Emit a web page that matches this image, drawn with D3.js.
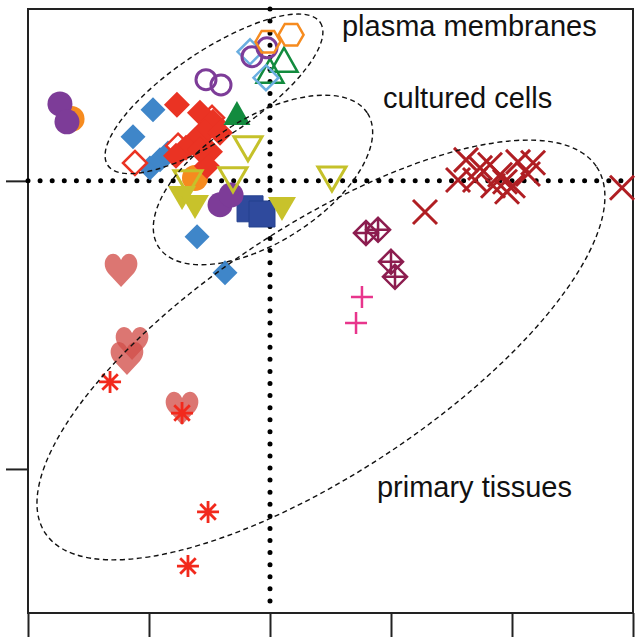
<!DOCTYPE html>
<html><head><meta charset="utf-8">
<script src="https://cdn.jsdelivr.net/npm/d3@7"></script>
<style>body{margin:0;background:#fff}</style>
</head><body><svg id="c" width="640" height="643"></svg>
<script>
// ---------- data (x, y in axis units) ----------
const xTicks = [-2, -1, 0, 1, 2, 3];
const yTicks = [-1, 0];

const orangeDots = [[-1.640, 0.215], [-0.620, 0.010]];
const purpleDots = [[-1.736, 0.267], [-1.678, 0.205], [-0.413, -0.083], [-0.322, -0.049]];
const blueDiamonds = [[-0.967, 0.247], [-1.132, 0.153], [-0.992, 0.045], [-0.909, 0.073], [-0.843, 0.097], [-0.603, -0.194], [-0.372, -0.319]];
const redOpenDiamonds = [[-1.116, 0.062], [-0.760, 0.122], [-0.479, 0.219], [-0.587, 0.153]];
const redDiamonds = [[-0.769, 0.264], [-0.579, 0.236], [-0.471, 0.205], [-0.537, 0.170], [-0.413, 0.167], [-0.620, 0.139], [-0.694, 0.115], [-0.777, 0.087], [-0.496, 0.101], [-0.521, 0.052], [-0.579, 0.108]];
const greenTriangles = [[-0.273, 0.229]];
const greenOpenTriangles = [[0.116, 0.413], [0.0, 0.375]];
const lightBlueOpenDiamonds = [[-0.165, 0.448], [-0.033, 0.358]];
const purpleOpenCircles = [[-0.149, 0.431], [-0.025, 0.462], [-0.529, 0.351], [-0.405, 0.333]];
const orangeOpenHexagons = [[-0.017, 0.483], [0.174, 0.507]];
const olivOpenTriangles = [[-0.182, 0.115], [-0.306, 0.007], [0.512, 0.010], [-0.678, -0.003]];
const olivTriangles = [[-0.727, -0.056], [-0.620, -0.087], [0.099, -0.094]];
const navySquares = [[-0.165, -0.097], [-0.066, -0.115]];
const hearts = [[-1.231, -0.309], [-1.140, -0.563], [-1.182, -0.615], [-0.727, -0.788]];
const asterisks = [[-1.322, -0.698], [-0.727, -0.806], [-0.512, -1.149], [-0.678, -1.337]];
const pinkPlus = [[0.760, -0.403], [0.711, -0.493]];
const maroonDiamondPlus = [[0.793, -0.181], [0.893, -0.170], [1.0, -0.281], [1.033, -0.333]];
const redCrosses = [[1.281, -0.108], [2.909, -0.024], [1.620, 0.073], [1.554, 0.003], [1.736, 0.045], [1.818, 0.056], [1.901, 0.021], [1.959, -0.038], [1.942, -0.003], [2.050, 0.066], [2.174, 0.063], [2.132, 0.024], [1.843, -0.017], [2.008, -0.017], [1.694, 0.003]];

const groupNames = ["plasma membranes", "cultured cells", "primary tissues"];
const groupCenters = [[-0.463, 0.302], [-0.058, 0.003], [0.421, -0.587]];
const labelAnchors = [[0.595, 0.503], [0.934, 0.253], [0.884, -1.097]];

// ---------- layout ----------
const svg = d3.select("#c");
const x = d3.scaleLinear().domain([-2, 3]).range([28, 633]);
const y = d3.scaleLinear().domain([-1.5, 0.6]).range([613, 8]);

// frame
svg.append("rect").attr("x", x(-2)).attr("y", y(0.6) + 1).attr("width", x(3) - x(-2)).attr("height", y(-1.5) - y(0.6) - 1)
  .attr("fill", "none").attr("stroke", "#222").attr("stroke-width", 2);

const gx = svg.append("g").attr("transform", `translate(0,${y(-1.5)})`)
  .call(d3.axisBottom(x).tickValues(xTicks).tickSize(24).tickFormat(""));
const gy = svg.append("g").attr("transform", `translate(${x(-2)},0)`)
  .call(d3.axisLeft(y).tickValues(yTicks).tickSize(22).tickFormat(""));
[gx, gy].forEach(g => { g.select(".domain").remove(); g.selectAll("line").attr("stroke", "#222").attr("stroke-width", 2); });

// dotted zero lines
svg.append("line").attr("x1", x(0)).attr("x2", x(0)).attr("y1", y(0.6) + 1).attr("y2", y(-1.5))
  .attr("stroke", "#000").attr("stroke-width", 5).attr("stroke-linecap", "round").attr("stroke-dasharray", "0,12.08");
svg.append("line").attr("x1", x(-2)).attr("x2", x(3)).attr("y1", y(0)).attr("y2", y(0))
  .attr("stroke", "#000").attr("stroke-width", 5).attr("stroke-linecap", "round").attr("stroke-dasharray", "0,12.1");

// ---------- symbol paths ----------
const diamond = h => `M0,${-h}L${h},0L0,${h}L${-h},0Z`;
const triUp = `M0,-14L13.5,10L-13.5,10Z`;
const triDown = `M-14,-11L14,-11L0,13Z`;
const hexagon = r => d3.range(6).map(k => { const a = k * Math.PI / 3; return (k ? "L" : "M") + (r * Math.cos(a)).toFixed(2) + "," + (r * Math.sin(a)).toFixed(2); }).join("") + "Z";
const heart = `M0,17L-13,3C-17,-2 -17.5,-9 -14,-13C-10,-18 -3,-17 0,-10C3,-17 10,-18 14,-13C17.5,-9 17,-2 13,3Z`;
const asterisk = r => { const d = r * Math.SQRT1_2; return `M${-r},0L${r},0M0,${-r}L0,${r}M${-d},${-d}L${d},${d}M${-d},${d}L${d},${-d}`; };
const plus = r => `M${-r},0L${r},0M0,${-r}L0,${r}`;
const cross = r => `M${-r},${-r}L${r},${r}M${-r},${r}L${r},${-r}`;

function draw(data, d, fill, stroke, sw, opacity) {
  svg.append("g").selectAll("path").data(data).join("path")
    .attr("transform", p => `translate(${x(p[0])},${y(p[1])})`)
    .attr("d", d).attr("fill", fill).attr("stroke", stroke).attr("stroke-width", sw)
    .attr("fill-opacity", opacity == null ? 1 : opacity)
    .attr("stroke-linejoin", "miter");
}
function dots(data, r, fill) {
  svg.append("g").selectAll("circle").data(data).join("circle")
    .attr("cx", p => x(p[0])).attr("cy", p => y(p[1])).attr("r", r).attr("fill", fill);
}

dots(orangeDots, 13, "#f68b1f");
draw(blueDiamonds, diamond(12.5), "#3f86c9", "none", 0);
draw(redOpenDiamonds, diamond(12), "#fff", "#ea3323", 2.5);
draw(redDiamonds, diamond(13), "#ea3323", "none", 0);
draw(greenTriangles, triUp, "#128b3e", "none", 0);
draw(navySquares, "M-13,-13H13V13H-13Z", "#2f4a9d", "#24408f", 1);
dots(purpleDots, 12.5, "#7d3c98");
draw(olivOpenTriangles, triDown, "none", "#c5c12a", 3);
draw(olivTriangles, triDown, "#c8c22b", "none", 0);
draw(greenOpenTriangles, triUp, "none", "#128b3e", 2.5);
draw(lightBlueOpenDiamonds, diamond(12.5), "none", "#6aaee0", 2.5);
svg.append("g").selectAll("circle").data(purpleOpenCircles).join("circle")
  .attr("cx", p => x(p[0])).attr("cy", p => y(p[1])).attr("r", 10)
  .attr("fill", "none").attr("stroke", "#7d3c98").attr("stroke-width", 3);
draw(orangeOpenHexagons, hexagon(12.5), "none", "#f68b1f", 2.5);
draw(hearts, heart, "#d24f4a", "none", 0, 0.78);
draw(asterisks, asterisk(11), "none", "#f2291c", 2.8);
draw(pinkPlus, plus(11), "none", "#e8358c", 2.5);
draw(maroonDiamondPlus, d => diamond(12) + plus(12), "none", "#8c1d4f", 2.5);
draw(redCrosses, cross(12), "none", "#b01e23", 3);

// ---------- ellipses ----------
const ellipseShape = [[128, 43, -33.9], [124, 62, -32.6], [331, 123, -33.6]];
svg.append("g").selectAll("ellipse").data(groupCenters).join("ellipse")
  .attr("transform", (c, i) => `translate(${x(c[0])},${y(c[1])}) rotate(${ellipseShape[i][2]})`)
  .attr("rx", (c, i) => ellipseShape[i][0]).attr("ry", (c, i) => ellipseShape[i][1])
  .attr("fill", "none").attr("stroke", "#111").attr("stroke-width", 1.4).attr("stroke-dasharray", "5,3.5");

// ---------- labels ----------
svg.append("g").selectAll("text").data(groupNames).join("text")
  .attr("x", (t, i) => x(labelAnchors[i][0])).attr("y", (t, i) => y(labelAnchors[i][1]))
  .attr("font-family", "'Liberation Sans', Arial, sans-serif").attr("font-size", 29).attr("fill", "#111")
  .text(t => t);
</script></body></html>
